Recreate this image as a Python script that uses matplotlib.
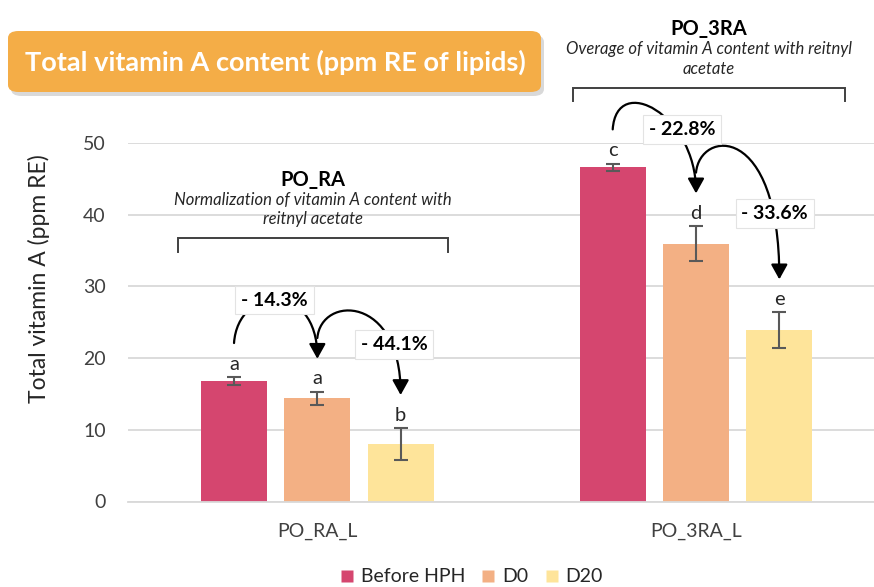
import numpy as np
import matplotlib.pyplot as plt
from matplotlib.patches import FancyBboxPatch, FancyArrowPatch
from matplotlib.path import Path
from matplotlib.lines import Line2D

# -------------------------
# data
# -------------------------
groups = ["PO_RA_L", "PO_3RA_L"]
series = ["Before HPH", "D0", "D20"]
values = {
    "Before HPH": [16.8, 46.6],
    "D0": [14.4, 35.97],
    "D20": [8.05, 23.88],
}
errors = {
    "Before HPH": [0.5, 0.5],
    "D0": [0.9, 2.4],
    "D20": [2.2, 2.5],
}
letters = {
    "Before HPH": ["a", "c"],
    "D0": ["a", "d"],
    "D20": ["b", "e"],
}
# percent drop labels: (group, from series, to series, text)
drops = [
    (0, "Before HPH", "D0", "- 14.3%"),
    (0, "D0", "D20", "- 44.1%"),
    (1, "Before HPH", "D0", "- 22.8%"),
    (1, "D0", "D20", "- 33.6%"),
]
group_titles = ["PO_RA", "PO_3RA"]
group_notes = ["Normalization of vitamin A content with\nreitnyl acetate",
               "Overage of vitamin A content with reitnyl\nacetate"]

colors = {"Before HPH": "#D5466F", "D0": "#F3B084", "D20": "#FEE49A"}

# -------------------------
# figure
# -------------------------
plt.rcParams["font.family"] = ["Lato", "DejaVu Sans"]

fig = plt.figure(figsize=(8.74, 5.87), dpi=100)
ax = fig.add_axes([128 / 874, 1 - 501.5 / 587, 746 / 874, 358.5 / 587])

x = np.arange(len(groups))
offset = 0.22
width = 0.174
bar_x = {}
for i, s in enumerate(series):
    xs = x + (i - 1) * offset
    bar_x[s] = xs
    ax.bar(xs, values[s], width, color=colors[s], label=s, zorder=2)
    ax.errorbar(xs, values[s], yerr=errors[s], fmt="none", ecolor="#595959",
                elinewidth=1.5, capsize=5, capthick=1.5, zorder=3)
    for xi, v, e, t in zip(xs, values[s], errors[s], letters[s]):
        ax.text(xi, v + e + 0.6, t, ha="center", va="bottom", fontsize=14.5,
                color="#262626", zorder=4)

ax.set_xlim(-0.5, 1.47)
ax.set_ylim(0, 50)
ax.set_yticks(np.arange(0, 51, 10))
ax.set_xticks(x)
ax.set_xticklabels(groups)
ax.tick_params(axis="y", length=0, pad=16, labelsize=14, labelcolor="#404040")
ax.tick_params(axis="x", length=0, pad=15, labelsize=14, labelcolor="#404040")
ax.yaxis.grid(True, color="#D9D9D9", linewidth=1.3, zorder=0)
ax.set_axisbelow(True)
for side in ["top", "right", "left"]:
    ax.spines[side].set_visible(False)
ax.spines["bottom"].set_color("#D9D9D9")
ax.spines["bottom"].set_linewidth(1.3)
ax.set_ylabel("Total vitamin A (ppm RE)", fontsize=16.5, color="#262626")
ax.yaxis.set_label_coords(-0.104, 0.622)


# -------------------------
# curved arrows with percent drop
# -------------------------
def curve(x0, y0, x1, y1, h0, h1, label_xy, text):
    verts = [(x0, y0), (x0 + 0.01, y0 + h0), (x1, y1 + h1), (x1, y1)]
    codes = [Path.MOVETO, Path.CURVE4, Path.CURVE4, Path.CURVE4]
    arr = FancyArrowPatch(path=Path(verts, codes), arrowstyle="-|>,head_length=9,head_width=5",
                          color="black", linewidth=1.6, clip_on=False, zorder=5)
    ax.add_patch(arr)
    ax.text(*label_xy, text, ha="center", va="center", fontsize=14, fontweight="bold",
            zorder=6, bbox=dict(boxstyle="square,pad=0.3", fc="white", ec="#E3E3E3", lw=0.8))


def top(s, g):
    return values[s][g] + errors[s][g]


label_pos = [(-0.113, 28.1), (0.203, 21.9), (0.963, 51.9), (1.208, 40.2)]
for (g, s0, s1, txt), lp in zip(drops, label_pos):
    x0, x1 = bar_x[s0][g], bar_x[s1][g]
    y0 = top(s0, g) + 4.8 if s0 == "Before HPH" else top(s0, g) + 7.5
    y1 = top(s1, g) + 4.6
    if s0 == "Before HPH":
        h0, h1 = 8.0, 11.0
    else:
        h0, h1 = 6.0, 22.0 if g == 1 else 14.0
    curve(x0, y0, x1, y1, h0, h1, lp, txt)

# -------------------------
# group brackets + titles
# -------------------------
brackets = [(-0.369, 0.346, 36.7, 34.8), (0.675, 1.393, 57.7, 55.8)]
for (xa, xb, yt, yb), title, note in zip(brackets, group_titles, group_notes):
    ax.plot([xa, xa, xb, xb], [yb, yt, yt, yb], color="#404040", lw=1.4,
            clip_on=False, solid_joinstyle="miter")
    xc = (xa + xb) / 2
    ax.text(xc, yt + 8.2, title, ha="center", va="center", fontsize=14.5,
            fontweight="bold", color="black")
    ax.text(xc, yt + 4.0, note, ha="center", va="center", fontsize=12,
            style="italic", color="#262626", linespacing=1.25)

# -------------------------
# title box
# -------------------------
W, H = 874, 587
shadow = FancyBboxPatch((11 / W, 1 - 96 / H), 533 / W, 61 / H,
                        boxstyle="round,pad=0,rounding_size=0.012",
                        transform=fig.transFigure, fc="#000000", ec="none", alpha=0.15)
fig.patches.append(shadow)
box = FancyBboxPatch((8 / W, 1 - 92 / H), 533 / W, 61 / H,
                     boxstyle="round,pad=0,rounding_size=0.012",
                     transform=fig.transFigure, fc="#F4AD47", ec="none")
fig.patches.append(box)
fig.text(275 / W, 1 - 62 / H, "Total vitamin A content (ppm RE of lipids)",
         ha="center", va="center", fontsize=19.5, fontweight="bold", color="white")

# -------------------------
# legend
# -------------------------
handles = [Line2D([], [], marker="s", linestyle="none", markersize=8.5,
                  markerfacecolor=colors[s], markeredgecolor="none") for s in series]
fig.legend(handles, series, loc="center", bbox_to_anchor=(469 / W, 1 - 577 / H),
           ncol=3, frameon=False, fontsize=14, handletextpad=0.1, columnspacing=0.6,
           handlelength=1.2, labelcolor="#262626")

fig.savefig("out.png", dpi=100)
